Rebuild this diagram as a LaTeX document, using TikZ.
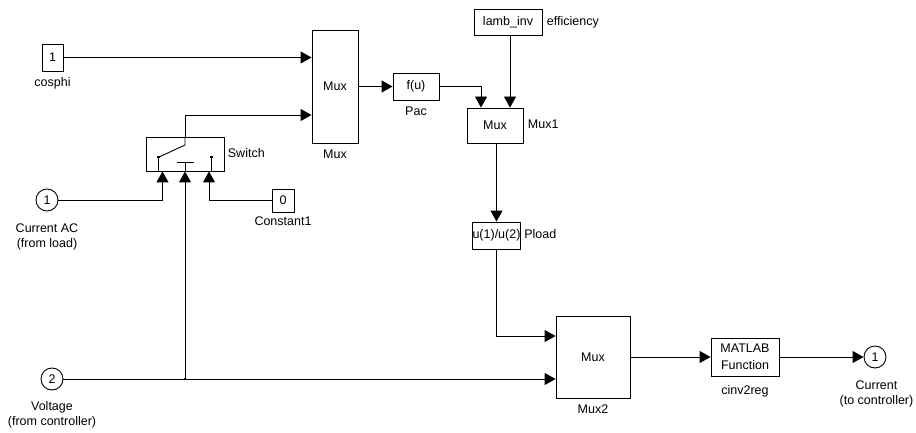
\documentclass[tikz,border=0pt]{standalone}
\usepackage{fontspec}
\setmainfont{Liberation Sans}
\usetikzlibrary{arrows.meta,calc,positioning}

\tikzset{
  blk/.style={draw, inner sep=0pt, align=center},
  port/.style={draw, circle, minimum size=22pt, inner sep=0pt},
  lbl/.style={inner sep=0pt, text height=9pt, text depth=2.5pt},
  lbl2/.style={inner sep=0pt, align=center}
}

\begin{document}
\begin{tikzpicture}[x=1pt, y=-1pt, line width=0.9pt, >={Triangle[length=11pt,width=12pt]},
  font=\fontsize{12.5}{15}\selectfont]
\useasboundingbox (0,0) rectangle (916,433);

% blocks
\node[blk, minimum width=21pt, minimum height=27pt] (cosphi) at (52.5,57.5) {1};
\node[blk, minimum width=46pt, minimum height=113pt] (mux) at (335,86.5) {Mux};
\node[blk, minimum width=78pt, minimum height=34pt] (sw) at (185,154) {};
\node[port] (cac) at (47,200) {1};
\node[blk, minimum width=22pt, minimum height=23pt] (const) at (283,200.5) {0};
\node[blk, minimum width=68pt, minimum height=26pt] (lamb) at (508,22) {lamb\_inv};
\node[blk, minimum width=46pt, minimum height=27pt] (fu) at (416,86.5) {f(u)};
\node[blk, minimum width=56pt, minimum height=35pt] (mux1) at (495,125.5) {Mux};
\node[blk, minimum width=46pt, minimum height=27pt] (pload) at (496.5,235.5) {u(1)/u(2)};
\node[blk, minimum width=74pt, minimum height=82pt] (mux2) at (593,357) {Mux};
\node[blk, minimum width=68pt, minimum height=38pt] (mfun) at (745,357) {MATLAB\\[2.5pt]Function};
\node[port] (cur) at (875,357) {1};
\node[port] (volt) at (52,379) {2};

% switch icon
\begin{scope}[shift={(sw.center)}]
  \draw (0,-17) -- (0,-9) -- (-27,3.5);
  \fill (-28.5,2.5) rectangle (-25.5,4.5);
  \draw (-27,3.5) -- (-27,17);
  \draw (-8,8) -- (9,8);
  \draw (0,8) -- (0,17);
  \fill (25,2.5) rectangle (28,4.5);
  \draw (26.5,3.5) -- (26.5,17);
\end{scope}

% labels
\node[lbl, below=6pt of cosphi] {cosphi};
\node[lbl, below=6pt of mux] {Mux};
\node[lbl, right=3pt of sw] {Switch};
\node[lbl2, below=12pt of cac] {Current AC\\(from load)};
\node[lbl, below=4pt of const] {Constant1};
\node[lbl, right=4pt of lamb] {efficiency};
\node[lbl, below=6pt of fu] {Pac};
\node[lbl, right=4pt of mux1] {Mux1};
\node[lbl, right=3pt of pload] {Pload};
\node[lbl, below=6pt of mux2] {Mux2};
\node[lbl, below=8.5pt of mfun] {cinv2reg};
\node[lbl2, below=11.5pt of cur, xshift=1.5pt] {Current\\(to controller)};
\node[lbl2, below=11pt of volt] {Voltage\\(from controller)};

% ports
\coordinate (muxin2) at ($(mux.west)+(0,28.5)$);
\coordinate (swin1) at ($(sw.south)+(-22.5,0)$);
\coordinate (swin2) at (sw.south);
\coordinate (swin3) at ($(sw.south)+(24,0)$);
\coordinate (mux1in1) at ($(mux1.north)+(-14,0)$);
\coordinate (mux1in2) at ($(mux1.north)+(15,0)$);
\coordinate (mux2in1) at ($(mux2.west)+(0,-21)$);
\coordinate (junc) at (volt -| swin2);

% signals
\draw[->] (cosphi) -- (cosphi -| mux.west);
\draw[->] (sw.north) |- (muxin2);
\draw[->] (cac) -| (swin1);
\draw[->] (const) -| (swin3);
\draw[->] (volt) -- (volt -| mux2.west);
\fill (junc) circle (1.3pt);
\draw[->] (junc) -- (swin2);
\draw[->] (mux) -- (fu);
\draw[->] (fu) -| (mux1in1);
\draw[->] (lamb.south -| mux1in2) -- (mux1in2);
\draw[->] (mux1.south -| pload) -- (pload);
\draw[->] (pload) |- (mux2in1);
\draw[->] (mux2) -- (mfun);
\draw[->] (mfun) -- (cur);
\end{tikzpicture}
\end{document}
